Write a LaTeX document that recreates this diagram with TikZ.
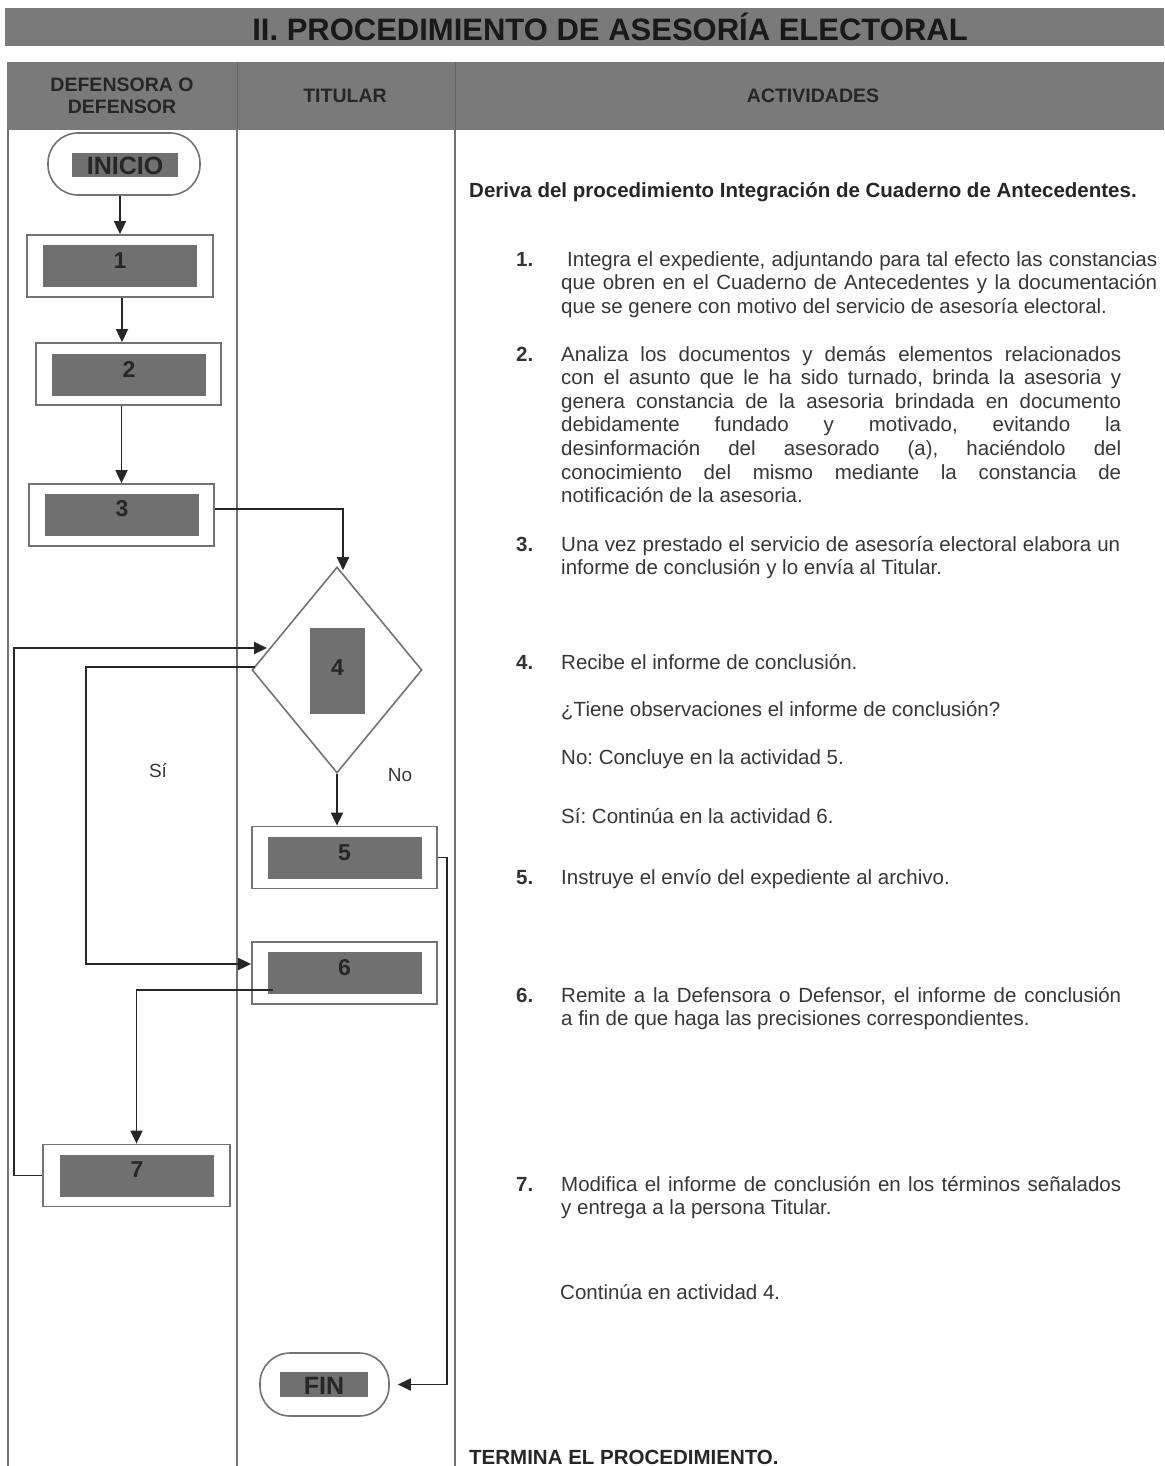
\documentclass[tikz,border=0pt]{standalone}
\usepackage{fontspec}
\setmainfont{Liberation Sans}
\usetikzlibrary{shapes.geometric,arrows.meta,calc}
\definecolor{bargray}{RGB}{122,122,122}
\definecolor{boxgray}{RGB}{112,112,112}
\definecolor{linegray}{RGB}{115,115,115}
\definecolor{txtgray}{RGB}{55,55,55}
\frenchspacing
\begin{document}
\begin{tikzpicture}[x=1pt,y=-1pt,
  lane/.style={draw=linegray, line width=1.6pt},
  outerbox/.style={draw=linegray, line width=1.8pt, rectangle, minimum width=#1, minimum height=62, inner sep=0},
  innerbox/.style={fill=boxgray, rectangle, minimum width=154, minimum height=42, inner sep=0},
  numtxt/.style={font=\fontsize{23}{26}\selectfont\bfseries, text=black!85, inner sep=0},
  term/.style={draw=linegray, line width=1.6pt, rectangle, rounded corners=30pt, inner sep=0},
  arr/.style={draw=black!85, line width=1.8pt, -{Triangle[length=13pt,width=12pt]}},
  body/.style={anchor=base west, inner sep=0, text=txtgray, font=\fontsize{20.5}{23.6}\selectfont},
  bnum/.style={anchor=base west, inner sep=0, text=black!80, font=\fontsize{20.5}{23.6}\selectfont\bfseries},
  hdr/.style={align=center, inner sep=0, text=black!85, font=\fontsize{19.5}{22}\selectfont\bfseries},
  lbl/.style={inner sep=0, text=txtgray, font=\fontsize{19}{22}\selectfont}
]
\useasboundingbox (0,0) rectangle (1164,1466);
\fill[white] (0,0) rectangle (1164,1466);

% title bar
\fill[bargray] (5,8) rectangle (1164,46);
\node[inner sep=0, font=\fontsize{31}{34}\selectfont\bfseries, text=black!90] (title) at (610,27) {II. PROCEDIMIENTO DE ASESORÍA ELECTORAL};

% header bar
\fill[bargray] (7,62) rectangle (1164,130);
\draw[draw=black!60, line width=1pt] (237,62) -- (237,130) (455,62) -- (455,130);
\node[hdr] (h1) at (122,96) {DEFENSORA O\\DEFENSOR};
\node[hdr] (h2) at (345,96) {TITULAR};
\node[hdr] (h3) at (813,96) {ACTIVIDADES};

% lanes
\draw[lane] (8,130) -- (8,1466);
\draw[lane] (237,130) -- (237,1466);
\draw[lane] (455,130) -- (455,1466);

% INICIO
\node[term, minimum width=152, minimum height=62] (ini) at (124,164) {};
\node[fill=boxgray, minimum width=106, minimum height=24, inner sep=0] (inii) at (125,165) {};
\node[inner sep=0, font=\fontsize{25}{28}\selectfont\bfseries, text=black!85] (init) at (125,166) {INICIO};

% boxes
\node[outerbox=186] (b1) at (120,266) {};
\node[innerbox] (b1i) at (120,266) {};
\node[numtxt] (n1) at (120,261) {1};

\node[outerbox=185] (b2) at (128.5,374) {};
\node[innerbox] (b2i) at (129,375) {};
\node[numtxt] (n2) at (129,369) {2};

\node[outerbox=185] (b3) at (121.5,515) {};
\node[innerbox] (b3i) at (122,514.5) {};
\node[numtxt] (n3) at (122,509) {3};

\node[draw=linegray, line width=1.6pt, diamond, minimum width=170, minimum height=206, inner sep=0] (d4) at (337,670) {};
\node[fill=boxgray, minimum width=55, minimum height=86, inner sep=0] (d4i) at (337.5,671) {};
\node[numtxt] (n4) at (337.5,668) {4};

\node[outerbox=185] (b5) at (344.5,857.5) {};
\node[innerbox] (b5i) at (344.5,858) {};
\node[numtxt] (n5) at (344.5,853) {5};

\node[outerbox=185] (b6) at (344.5,973) {};
\node[innerbox] (b6i) at (344.5,972.5) {};
\node[numtxt] (n6) at (344.5,968) {6};

\node[outerbox=187] (b7) at (136.5,1175.5) {};
\node[innerbox] (b7i) at (137,1175.5) {};
\node[numtxt] (n7) at (137,1170) {7};

% FIN
\node[term, minimum width=129, minimum height=63] (fin) at (324.5,1384.5) {};
\node[fill=boxgray, minimum width=88, minimum height=25, inner sep=0] (fini) at (324,1384.5) {};
\node[inner sep=0, font=\fontsize{25}{28}\selectfont\bfseries, text=black!85] (fint) at (324,1386) {FIN};

% connectors
\draw[arr] (b1.north |- ini.south) -- (b1.north);
\draw[arr] (b1.south) ++(2,0) coordinate (c12) -- (c12 |- b2.north);
\draw[arr] (b3.north |- b2.south) -- (b3.north);
\coordinate (c34) at ($(b3.east)+(0,-6)$);
\draw[arr] (c34) -| ($(d4.north)+(6,4)$);
\draw[arr] (d4.south) -- (d4.south |- b5.north);
\coordinate (si0) at ($(d4.west)+(4,-3)$);
\coordinate (si1) at (86,667);
\coordinate (si2) at (86,964);
\draw[arr] (si0) -- (si1) -- (si2) -- (b6.west |- si2);
\coordinate (c67) at (273,990);
\draw[arr] (c67) -| (b7.north);
\coordinate (r7a) at (14,1175.5);
\coordinate (r7b) at (14,648);
\coordinate (r7c) at (267,648);
\draw[arr] (b7.west) -- (r7a) -- (r7b) -- (r7c);
\coordinate (f1) at (447,857.5);
\coordinate (f2) at (447,1384.5);
\draw[arr] (b5.east) -- (f1) -- (f2) -- ($(fin.east)+(8,0)$);

\node[lbl] (si) at (158,771) {Sí};
\node[lbl] (no) at (400,775) {No};

% activities text
\node[body, font=\fontsize{20.5}{23.6}\selectfont\bfseries, text=black!85] (t0) at (469,197) {Deriva del procedimiento Integración de Cuaderno de Antecedentes.};

\node[bnum] (k1) at (516,266) {1.};
\node[body] (t1a) at (567,266) {\makebox[590pt][s]{Integra el expediente, adjuntando para tal efecto las constancias}};
\node[body] (t1b) at (561,289.6) {\makebox[596pt][s]{que obren en el Cuaderno de Antecedentes y la documentación}};
\node[body] (t1c) at (561,313.2) {que se genere con motivo del servicio de asesoría electoral.};

\node[bnum] (k2) at (516,361) {2.};
\node[body] (t2a) at (561,361) {\makebox[560pt][s]{Analiza los documentos y demás elementos relacionados}};
\node[body] (t2b) at (561,384.6) {\makebox[560pt][s]{con el asunto que le ha sido turnado, brinda la asesoria y}};
\node[body] (t2c) at (561,408.2) {\makebox[560pt][s]{genera constancia de la asesoria brindada en documento}};
\node[body] (t2d) at (561,431.8) {\makebox[560pt][s]{debidamente fundado y motivado, evitando la}};
\node[body] (t2e) at (561,455.4) {\makebox[560pt][s]{desinformación del asesorado (a), haciéndolo del}};
\node[body] (t2f) at (561,479) {\makebox[560pt][s]{conocimiento del mismo mediante la constancia de}};
\node[body] (t2g) at (561,502.6) {notificación de la asesoria.};

\node[bnum] (k3) at (516,551) {3.};
\node[body] (t3a) at (561,551) {\makebox[559pt][s]{Una vez prestado el servicio de asesoría electoral elabora un}};
\node[body] (t3b) at (561,574.6) {informe de conclusión y lo envía al Titular.};

\node[bnum] (k4) at (516,669) {4.};
\node[body] (t4a) at (561,669) {Recibe el informe de conclusión.};
\node[body] (t4b) at (561,716) {¿Tiene observaciones el informe de conclusión?};
\node[body] (t4c) at (561,764) {No: Concluye en la actividad 5.};
\node[body] (t4d) at (561,823) {Sí: Continúa en la actividad 6.};

\node[bnum] (k5) at (516,884) {5.};
\node[body] (t5a) at (561,884) {Instruye el envío del expediente al archivo.};

\node[bnum] (k6) at (516,1002) {6.};
\node[body] (t6a) at (561,1002) {\makebox[560pt][s]{Remite a la Defensora o Defensor, el informe de conclusión}};
\node[body] (t6b) at (561,1025.6) {a fin de que haga las precisiones correspondientes.};

\node[bnum] (k7) at (516,1191) {7.};
\node[body] (t7a) at (561,1191) {\makebox[560pt][s]{Modifica el informe de conclusión en los términos señalados}};
\node[body] (t7b) at (561,1214.6) {y entrega a la persona Titular.};

\node[body] (t8) at (560,1299) {Continúa en actividad 4.};

\node[body, font=\fontsize{20.5}{23.6}\selectfont\bfseries, text=black!85] (tend) at (469,1464) {TERMINA EL PROCEDIMIENTO.};
\end{tikzpicture}
\end{document}
